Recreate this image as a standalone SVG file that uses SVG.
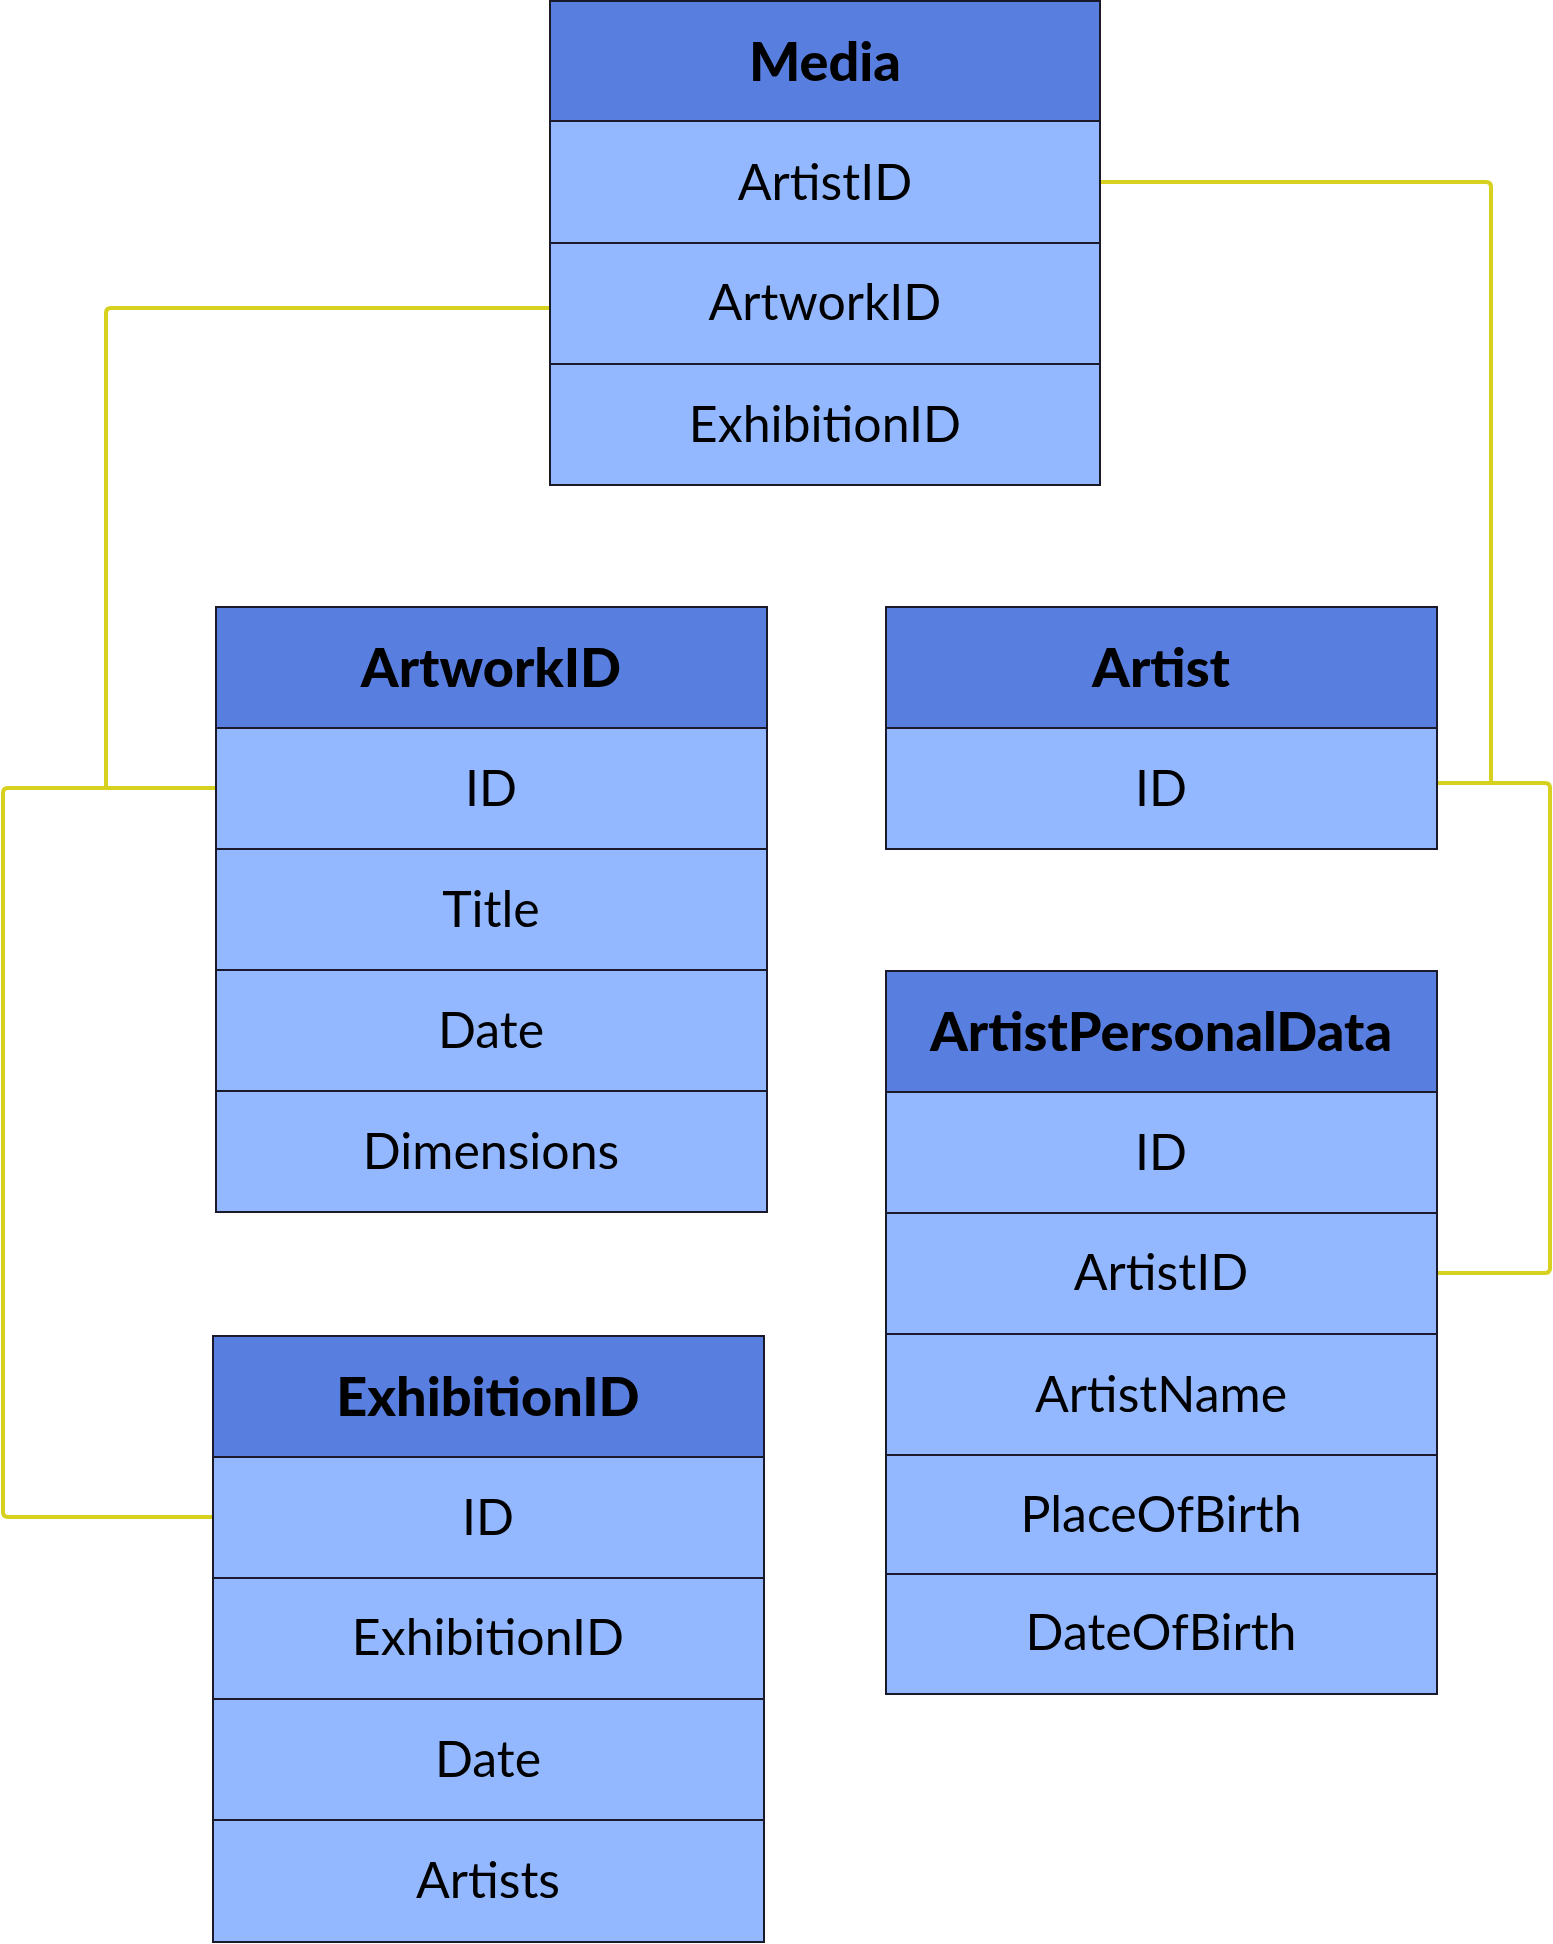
<svg xmlns="http://www.w3.org/2000/svg" width="1553" height="1944" viewBox="0 0 1553 1944">
<style>
.h{fill:#587EE0;stroke:#1a1a2a;stroke-width:2}
.r{fill:#93B8FF;stroke:#1a1a2a;stroke-width:2}
.ht{font-family:Lato,"Noto Sans",sans-serif;font-weight:900;font-size:54px;fill:#000;text-anchor:middle;dominant-baseline:central}
.t{font-family:Lato,"Noto Sans",sans-serif;font-size:50px;fill:#000;text-anchor:middle;dominant-baseline:central}
.c{fill:none;stroke:#D6D01E;stroke-width:4;stroke-linejoin:round}
</style>
<rect width="1553" height="1944" fill="#fff"/>
<g id="connectors">
<path class="c" d="M1100,182 H1486 Q1491,182 1491,187 V783"/>
<path class="c" d="M1437,783 H1545 Q1550,783 1550,788 V1268 Q1550,1273 1545,1273 H1437"/>
<path class="c" d="M550,308 H111 Q106,308 106,313 V788"/>
<path class="c" d="M216,788 H8 Q3,788 3,793 V1512 Q3,1517 8,1517 H213"/>
</g>
<g id="media">
<rect class="h" x="550" y="1" width="550" height="120"/>
<rect class="r" x="550" y="121" width="550" height="122"/>
<rect class="r" x="550" y="243" width="550" height="121"/>
<rect class="r" x="550" y="364" width="550" height="121"/>
<text class="ht" x="825" y="60">Media</text>
<text class="t" x="825" y="181">ArtistID</text>
<text class="t" x="825" y="301">ArtworkID</text>
<text class="t" x="825" y="423">ExhibitionID</text>
</g>
<g id="artwork">
<rect class="h" x="216" y="607" width="551" height="121"/>
<rect class="r" x="216" y="728" width="551" height="121"/>
<rect class="r" x="216" y="849" width="551" height="121"/>
<rect class="r" x="216" y="970" width="551" height="121"/>
<rect class="r" x="216" y="1091" width="551" height="121"/>
<text class="ht" x="491" y="666">ArtworkID</text>
<text class="t" x="491" y="787">ID</text>
<text class="t" x="491" y="908">Title</text>
<text class="t" x="491" y="1029">Date</text>
<text class="t" x="491" y="1150">Dimensions</text>
</g>
<g id="artist">
<rect class="h" x="886" y="607" width="551" height="121"/>
<rect class="r" x="886" y="728" width="551" height="121"/>
<text class="ht" x="1161" y="666">Artist</text>
<text class="t" x="1161" y="787">ID</text>
</g>
<g id="artistpersonaldata">
<rect class="h" x="886" y="971" width="551" height="121"/>
<rect class="r" x="886" y="1092" width="551" height="121"/>
<rect class="r" x="886" y="1213" width="551" height="121"/>
<rect class="r" x="886" y="1334" width="551" height="121"/>
<rect class="r" x="886" y="1455" width="551" height="119"/>
<rect class="r" x="886" y="1574" width="551" height="120"/>
<text class="ht" x="1161" y="1030">ArtistPersonalData</text>
<text class="t" x="1161" y="1151">ID</text>
<text class="t" x="1161" y="1271">ArtistID</text>
<text class="t" x="1161" y="1393">ArtistName</text>
<text class="t" x="1161" y="1513">PlaceOfBirth</text>
<text class="t" x="1161" y="1631">DateOfBirth</text>
</g>
<g id="exhibition">
<rect class="h" x="213" y="1336" width="551" height="121"/>
<rect class="r" x="213" y="1457" width="551" height="121"/>
<rect class="r" x="213" y="1578" width="551" height="121"/>
<rect class="r" x="213" y="1699" width="551" height="121"/>
<rect class="r" x="213" y="1820" width="551" height="122"/>
<text class="ht" x="488" y="1395">ExhibitionID</text>
<text class="t" x="488" y="1516">ID</text>
<text class="t" x="488" y="1636">ExhibitionID</text>
<text class="t" x="488" y="1758">Date</text>
<text class="t" x="488" y="1879">Artists</text>
</g>
</svg>
